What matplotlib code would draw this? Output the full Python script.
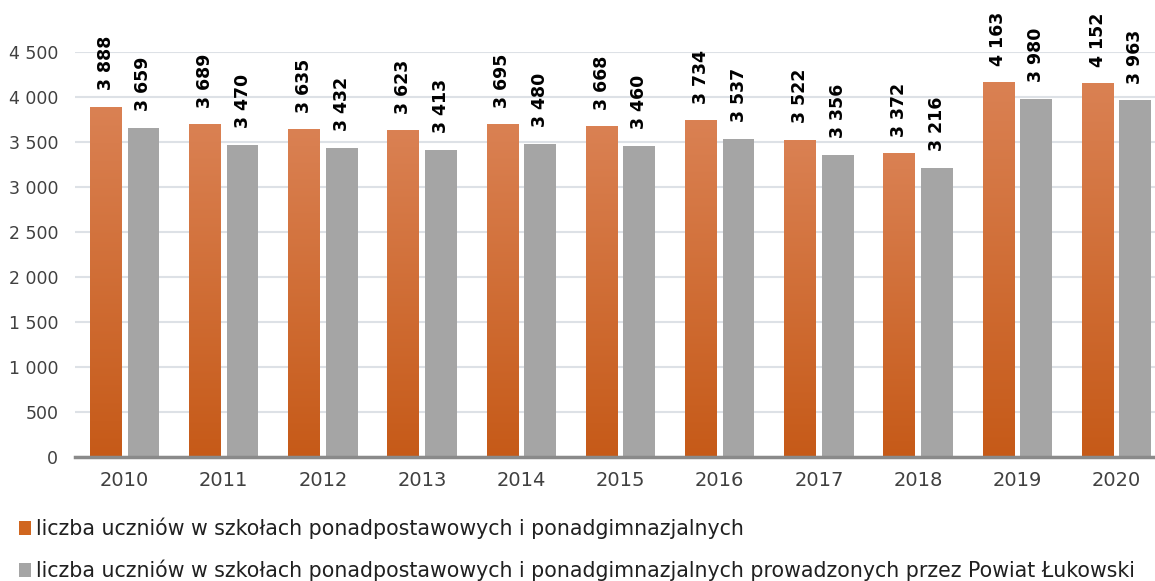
import matplotlib
matplotlib.use("Agg")
import matplotlib.pyplot as plt
import numpy as np
from matplotlib.colors import LinearSegmentedColormap
from matplotlib.patches import Rectangle

years = ["2010", "2011", "2012", "2013", "2014", "2015", "2016", "2017", "2018", "2019", "2020"]
total = [3888, 3689, 3635, 3623, 3695, 3668, 3734, 3522, 3372, 4163, 4152]
powiat = [3659, 3470, 3432, 3413, 3480, 3460, 3537, 3356, 3216, 3980, 3963]
label_total = "liczba uczniów w szkołach ponadpostawowych i ponadgimnazjalnych"
label_powiat = "liczba uczniów w szkołach ponadpostawowych i ponadgimnazjalnych prowadzonych przez Powiat Łukowski"

def fmt(v):
    return f"{v:,}".replace(",", " ")

plt.rcParams['font.family'] = ['DejaVu Sans']
W, H = 1155, 581
fig = plt.figure(figsize=(W / 100, H / 100), dpi=100)
left_px, right_px, top_px, bot_px = 75, 1166, 52, 457
ax = fig.add_axes([left_px / W, 1 - bot_px / H, (right_px - left_px) / W, (bot_px - top_px) / H])

x = np.arange(len(years))
bw = 0.32
off = 0.19
cmap = LinearSegmentedColormap.from_list("og", ["#C65A18", "#DA8153"])
grad = np.linspace(0, 1, 256).reshape(-1, 1)

bars1 = ax.bar(x - off, total, bw, color="none", edgecolor="none", zorder=3)
for b in bars1:
    x0, y0, w, h = b.get_x(), b.get_y(), b.get_width(), b.get_height()
    ax.imshow(grad, extent=[x0, x0 + w, y0, y0 + h], origin="lower", cmap=cmap,
              aspect="auto", zorder=3, interpolation="bilinear")
bars2 = ax.bar(x + off, powiat, bw, color="#A5A5A5", zorder=3)

for xi, v in zip(x, total):
    ax.annotate(fmt(v), (xi - off, v), xytext=(0, 12), textcoords="offset points",
                rotation=90, ha="center", va="bottom", fontsize=12.5, fontweight="bold",
                color="black", zorder=4, annotation_clip=False)
for xi, v in zip(x, powiat):
    ax.annotate(fmt(v), (xi + off, v), xytext=(0, 12), textcoords="offset points",
                rotation=90, ha="center", va="bottom", fontsize=12.5, fontweight="bold",
                color="black", zorder=4, annotation_clip=False)

ax.set_xlim(-0.5, len(years) - 0.5)
ax.set_ylim(0, 4500)
yt = np.arange(0, 4501, 500)
ax.set_yticks(yt)
ax.set_yticklabels([fmt(v) for v in yt], fontsize=12.5, color="#404040")
ax.set_xticks(x)
ax.set_xticklabels(years, fontsize=14, color="#404040")
ax.tick_params(axis="both", length=0)
ax.tick_params(axis="y", pad=12)
ax.tick_params(axis="x", pad=10)
ax.grid(axis="y", color="#DDE1E6", linewidth=1.5, zorder=0)
for s in ["top", "right", "left"]:
    ax.spines[s].set_visible(False)
ax.spines["bottom"].set_color("#8A8A8A")
ax.spines["bottom"].set_linewidth(2.5)
ax.spines["bottom"].set_zorder(5)

# legend
def legend_item(ypx, color, text):
    fig.patches.append(Rectangle((19 / W, 1 - (ypx + 7) / H), 12 / W, 14 / H,
                                 transform=fig.transFigure, facecolor=color, edgecolor="none"))
    fig.text(36 / W, 1 - ypx / H, text, fontsize=14.8, color="#202020", va="center", ha="left")

legend_item(528, "#D0661F", label_total)
legend_item(570, "#A5A5A5", label_powiat)

fig.savefig("out.png", dpi=100)
